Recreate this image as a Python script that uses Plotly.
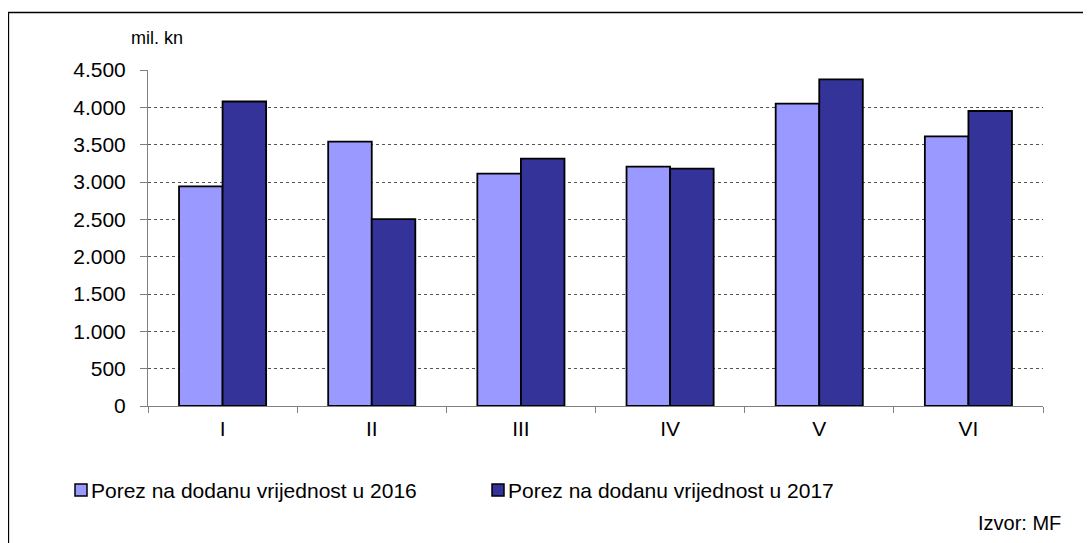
import plotly.graph_objects as go

months = ["I", "II", "III", "IV", "V", "VI"]
pdv_2016 = [2942, 3540, 3111, 3205, 4049, 3611]
pdv_2017 = [4078, 2504, 3312, 3178, 4375, 3951]
series_names = ["Porez na dodanu vrijednost u 2016", "Porez na dodanu vrijednost u 2017"]
series_colors = ["#9999FF", "#333399"]
y_ticks = [0, 500, 1000, 1500, 2000, 2500, 3000, 3500, 4000, 4500]

W, H = 1091, 543
OFF = 8  # page body margin
# plot area in page pixels
PL, PR, PT, PB = 148, 1043, 70, 406
L, R, T, B = PL - OFF, PR - OFF, PT - OFF, PB - OFF


def px_x(px):
    return (px - PL) / (PR - PL)


def px_y(py):
    return (PB - py) / (PB - PT)


FONT = "Liberation Sans, Arial, sans-serif"

fig = go.Figure()
for name, vals, col in zip(series_names, [pdv_2016, pdv_2017], series_colors):
    fig.add_trace(go.Bar(
        x=months, y=vals, name=name,
        marker=dict(color=col, line=dict(color="#000000", width=1.8)),
        showlegend=False,
    ))

shapes = [
    dict(type="rect", xref="paper", yref="paper",
         x0=px_x(8.5), x1=px_x(1300), y0=px_y(12.5), y1=px_y(800),
         line=dict(color="#000000", width=1.3), fillcolor="rgba(0,0,0,0)", layer="below"),
]
annotations = [
    dict(text="mil. kn", xref="paper", yref="paper", x=px_x(157), y=px_y(38),
         showarrow=False, xanchor="center", yanchor="middle",
         font=dict(family=FONT, size=18, color="#000")),
    dict(text="Izvor: MF", xref="paper", yref="paper", x=px_x(1063), y=px_y(523),
         showarrow=False, xanchor="right", yanchor="middle",
         font=dict(family=FONT, size=20, color="#000")),
]
legend_sq_x = [75, 492]
legend_y = 490
for i, (name, col) in enumerate(zip(series_names, series_colors)):
    sx = legend_sq_x[i]
    shapes.append(dict(type="rect", xref="paper", yref="paper",
                       x0=px_x(sx), x1=px_x(sx + 12), y0=px_y(legend_y - 6), y1=px_y(legend_y + 6),
                       fillcolor=col, line=dict(color="#000", width=1.5)))
    annotations.append(dict(text=name, xref="paper", yref="paper",
                            x=px_x(sx + 14), y=px_y(legend_y), showarrow=False,
                            xanchor="left", yanchor="middle",
                            font=dict(family=FONT, size=21, color="#000")))

fig.update_layout(
    width=W, height=H,
    margin=dict(l=L, r=W - R, t=T, b=H - B, pad=0),
    paper_bgcolor="#ffffff", plot_bgcolor="#ffffff",
    separators=",.",
    barmode="group", bargap=0.416, bargroupgap=0,
    font=dict(family=FONT, size=21, color="#000"),
    shapes=shapes, annotations=annotations,
    xaxis=dict(
        showline=True, linecolor="#808080", linewidth=1,
        ticks="outside", tickson="boundaries", ticklen=6, tickcolor="#808080",
        tickfont=dict(family=FONT, size=21, color="#000"),
        ticklabelstandoff=4,
        showgrid=False, zeroline=False,
    ),
    yaxis=dict(
        range=[0, 4500], tickvals=y_ticks, tickformat=",d",
        showline=True, linecolor="#808080", linewidth=1,
        ticks="outside", ticklen=7, tickcolor="#808080",
        tickfont=dict(family=FONT, size=21, color="#000"),
        ticklabelstandoff=10,
        showgrid=True, gridcolor="#555555", gridwidth=1, griddash="dot",
        zeroline=False,
    ),
)

fig.write_html("out.html")
